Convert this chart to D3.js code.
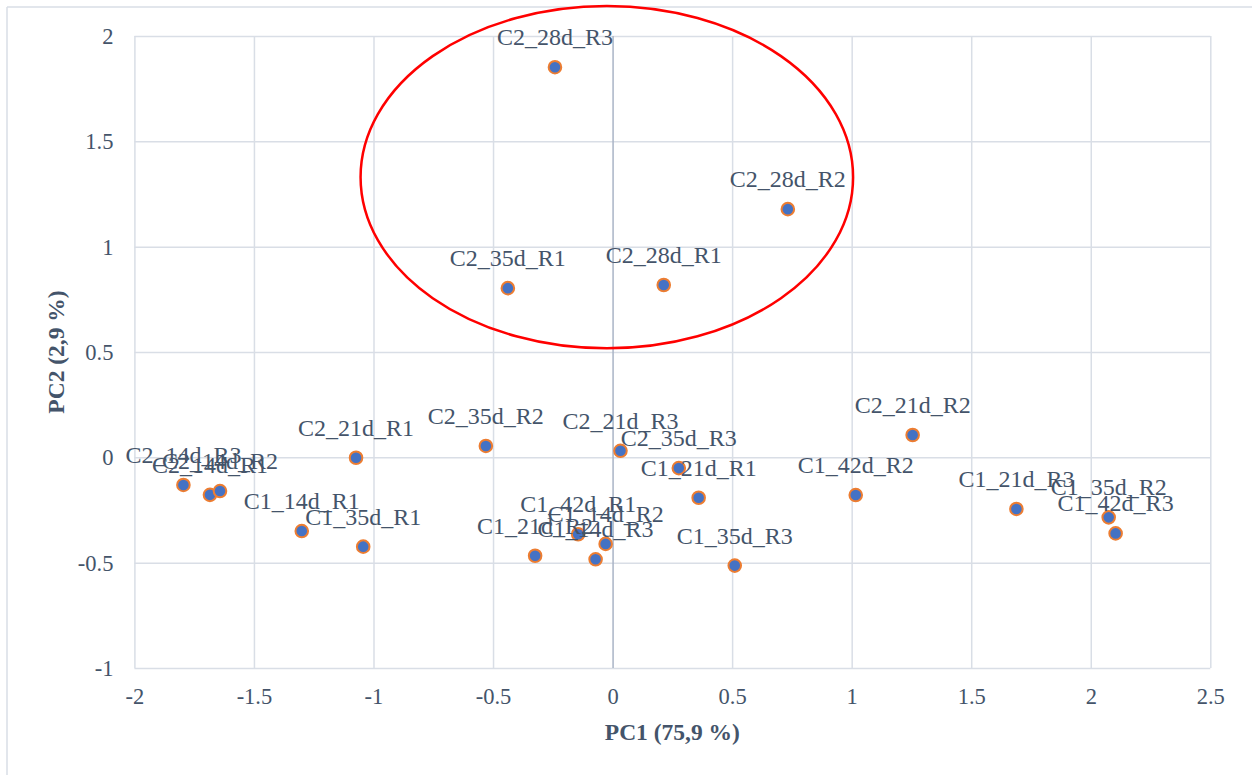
<!DOCTYPE html>
<html>
<head>
<meta charset="utf-8">
<script src="https://cdn.jsdelivr.net/npm/d3@7"></script>
<style>
  html, body { margin: 0; padding: 0; background: #fff; }
  svg { display: block; }
</style>
</head>
<body>
<svg id="chart" width="1252" height="775"></svg>
<script>
// ---- data ----
const labels = [
  "C2_28d_R3","C2_28d_R2","C2_35d_R1","C2_28d_R1","C2_21d_R2","C2_35d_R2",
  "C2_21d_R1","C2_21d_R3","C2_35d_R3","C1_21d_R1","C1_35d_R3","C1_42d_R1",
  "C1_14d_R2","C1_21d_R2","C1_14d_R3","C2_14d_R3","C2_14d_R1","C2_14d_R2",
  "C1_14d_R1","C1_35d_R1","C1_42d_R2","C1_21d_R3","C1_35d_R2","C1_42d_R3"
];
const pc1 = [
  -0.241, 0.733, -0.438, 0.214, 1.255, -0.530,
  -1.073, 0.033, 0.277, 0.360, 0.511, -0.144,
  -0.029, -0.324, -0.071, -1.795, -1.684, -1.642,
  -1.300, -1.043, 1.017, 1.689, 2.075, 2.104
];
const pc2 = [
  1.852, 1.178, 0.803, 0.818, 0.106, 0.054,
  -0.002, 0.031, -0.051, -0.192, -0.514, -0.365,
  -0.411, -0.467, -0.484, -0.131, -0.178, -0.160,
  -0.350, -0.424, -0.179, -0.245, -0.285, -0.361
];
const xTicks = [-2, -1.5, -1, -0.5, 0, 0.5, 1, 1.5, 2, 2.5];
const yTicks = [-1, -0.5, 0, 0.5, 1, 1.5, 2];
const xTitle = "PC1 (75,9 %)";
const yTitle = "PC2 (2,9 %)";
// highlight ellipse (data units): center x, center y, radius x, radius y
const ellipseCenter = [-0.024, 1.330];
const ellipseRadius = [1.030, 0.8125];

// ---- layout ----
const svg = d3.select("#chart");
const L = 134.4, R = 1210.3, T = 36, B = 668;
const x = d3.scaleLinear().domain([-2, 2.5]).range([L, R]);
const y = d3.scaleLinear().domain([-1, 2]).range([B, T]);

const textColor = "#44546A";
const gridColor = "#D9DEE6";
const font = "'Liberation Serif', 'Times New Roman', serif";
const fmt = d => String(d);

// outer chart border (top + left visible)
svg.append("line").attr("x1", 7).attr("x2", 1252).attr("y1", 7).attr("y2", 7)
  .attr("stroke", gridColor).attr("stroke-width", 1.5);
svg.append("line").attr("x1", 7).attr("x2", 7).attr("y1", 7).attr("y2", 775)
  .attr("stroke", gridColor).attr("stroke-width", 1.5);

// gridlines via axes
const gy = svg.append("g").attr("transform", `translate(${L},0)`)
  .call(d3.axisLeft(y).tickValues(yTicks).tickSize(-(R - L)).tickFormat(fmt));
gy.select(".domain").remove();
gy.selectAll(".tick line").attr("stroke", gridColor).attr("stroke-width", 1.5);
gy.selectAll(".tick text").attr("fill", textColor).attr("font-family", font)
  .attr("font-size", 22.5).attr("x", -21).attr("dy", "0.34em");

const gx = svg.append("g").attr("transform", `translate(0,${B})`)
  .call(d3.axisBottom(x).tickValues(xTicks).tickSize(-(B - T)).tickFormat(fmt));
gx.select(".domain").remove();
gx.selectAll(".tick line").attr("stroke", d => d === 0 ? "#A9B4C6" : gridColor).attr("stroke-width", 1.5);
gx.selectAll(".tick text").attr("fill", textColor).attr("font-family", font)
  .attr("font-size", 22.5).attr("dy", 0).attr("y", 36);
gx.selectAll(".tick").filter(d => d === 0).raise();

// axis titles
svg.append("text").attr("x", (L + R) / 2).attr("y", 740)
  .attr("text-anchor", "middle").attr("font-family", font).attr("font-weight", "bold")
  .attr("font-size", 23.5).attr("fill", textColor).text(xTitle);
svg.append("text").attr("transform", `translate(64,${(T + B) / 2}) rotate(-90)`)
  .attr("text-anchor", "middle").attr("font-family", font).attr("font-weight", "bold")
  .attr("font-size", 23.5).attr("fill", textColor).text(yTitle);

// points
const data = labels.map((l, i) => ({ label: l, x: pc1[i], y: pc2[i] }));
svg.append("g").selectAll("circle").data(data).join("circle")
  .attr("cx", d => x(d.x)).attr("cy", d => y(d.y)).attr("r", 6.3)
  .attr("fill", "#4472C4").attr("stroke", "#ED7D31").attr("stroke-width", 2);

// labels
svg.append("g").selectAll("text").data(data).join("text")
  .attr("x", d => x(d.x)).attr("y", d => y(d.y) - 22)
  .attr("text-anchor", "middle").attr("font-family", font).attr("font-size", 24)
  .attr("fill", textColor).text(d => d.label);

// ellipse
const ex = x(ellipseCenter[0]), ey = y(ellipseCenter[1]);
const erx = x(ellipseCenter[0] + ellipseRadius[0]) - ex;
const ery = ey - y(ellipseCenter[1] + ellipseRadius[1]);
svg.append("ellipse").attr("cx", ex).attr("cy", ey).attr("rx", erx).attr("ry", ery)
  .attr("fill", "none").attr("stroke", "#FF0000").attr("stroke-width", 2.5);
</script>
</body>
</html>
